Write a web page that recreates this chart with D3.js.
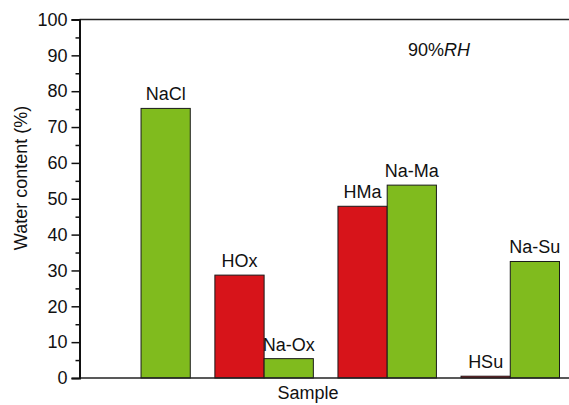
<!DOCTYPE html>
<html>
<head>
<meta charset="utf-8">
<script src="https://cdn.jsdelivr.net/npm/d3@7/dist/d3.min.js"></script>
<style>
  html, body { margin: 0; padding: 0; background: #fff; }
  svg { display: block; font-family: "Liberation Sans", Arial, sans-serif; }
</style>
</head>
<body>
<svg id="chart" width="569" height="405"></svg>
<script>
// Water content at 90% RH: acid form (red) vs. sodium salt (green)
const groups = ["Cl", "Ox", "Ma", "Su"];
const acidValues = [null, 28.7, 47.9, 0.5];
const saltValues = [75.2, 5.4, 53.8, 32.5];
const acidLabels = [null, "HOx", "HMa", "HSu"];
const saltLabels = ["NaCl", "Na-Ox", "Na-Ma", "Na-Su"];
const yTicks = [0, 10, 20, 30, 40, 50, 60, 70, 80, 90, 100];
const yMinorTicks = [5, 15, 25, 35, 45, 55, 65, 75, 85, 95];

const series = [
  { key: "acid", values: acidValues, labels: acidLabels, color: "#d7141a" },
  { key: "salt", values: saltValues, labels: saltLabels, color: "#80bb1e" }
];

const FONT = 18;
const svg = d3.select("#chart");
const plotLeft = 79.5, plotRight = 571.8, plotTop = 19.5, plotBottom = 378;

const x = d3.scaleBand().domain(groups).range([plotLeft, plotRight])
  .paddingInner(0.2).paddingOuter(0.1);
const xs = d3.scaleBand().domain(series.map(s => s.key)).range([0, x.bandwidth()]);
const y = d3.scaleLinear().domain([0, 100]).range([plotBottom, plotTop]);

// bars
const rows = [];
series.forEach(s => s.values.forEach((v, i) => {
  if (v != null) rows.push({ g: groups[i], key: s.key, v, label: s.labels[i], color: s.color });
}));

svg.append("g").selectAll("rect").data(rows).join("rect")
  .attr("x", d => x(d.g) + xs(d.key))
  .attr("y", d => y(d.v))
  .attr("width", xs.bandwidth())
  .attr("height", d => y(0) - y(d.v))
  .attr("fill", d => d.color)
  .attr("stroke", "#1a1a1a")
  .attr("stroke-width", 1);

svg.append("g").selectAll("text").data(rows).join("text")
  .attr("x", d => x(d.g) + xs(d.key) + xs.bandwidth() / 2)
  .attr("y", d => y(d.v) - 8)
  .attr("text-anchor", "middle")
  .attr("font-size", FONT)
  .attr("fill", "#111")
  .text(d => d.label);

// frame top line and bottom axis
svg.append("line").attr("x1", plotLeft).attr("x2", 569).attr("y1", plotTop).attr("y2", plotTop)
  .attr("stroke", "#222").attr("stroke-width", 1.5);
svg.append("line").attr("x1", plotLeft).attr("x2", 569).attr("y1", plotBottom).attr("y2", plotBottom)
  .attr("stroke", "#222").attr("stroke-width", 1.5);

// y axis with minor ticks
const yAxis = d3.axisLeft(y).tickValues(yTicks).tickSize(8).tickPadding(4).tickFormat(d3.format("d"));
const gy = svg.append("g").attr("transform", `translate(${plotLeft},0)`).call(yAxis);
gy.select(".domain").attr("stroke", "#111").attr("stroke-width", 2);
gy.selectAll(".tick line").attr("stroke", "#111").attr("stroke-width", 1.5);
gy.selectAll(".tick text").attr("font-size", FONT).attr("fill", "#111")
  .attr("font-family", "Liberation Sans, Arial, sans-serif");

const yMinor = d3.axisLeft(y).tickValues(yMinorTicks).tickSize(4).tickFormat("");
const gm = svg.append("g").attr("transform", `translate(${plotLeft},0)`).call(yMinor);
gm.select(".domain").remove();
gm.selectAll(".tick line").attr("stroke", "#111").attr("stroke-width", 1.5);

// axis titles
svg.append("text")
  .attr("transform", "translate(27,178) rotate(-90)")
  .attr("text-anchor", "middle")
  .attr("font-size", FONT)
  .attr("fill", "#111")
  .text("Water content (%)");

svg.append("text")
  .attr("x", 308).attr("y", 399)
  .attr("text-anchor", "middle")
  .attr("font-size", FONT)
  .attr("fill", "#111")
  .text("Sample");

// condition annotation
const ann = svg.append("text").attr("x", 408).attr("y", 56)
  .attr("font-size", FONT).attr("fill", "#111");
ann.append("tspan").text("90%");
ann.append("tspan").attr("font-style", "italic").text("RH");
</script>
</body>
</html>
